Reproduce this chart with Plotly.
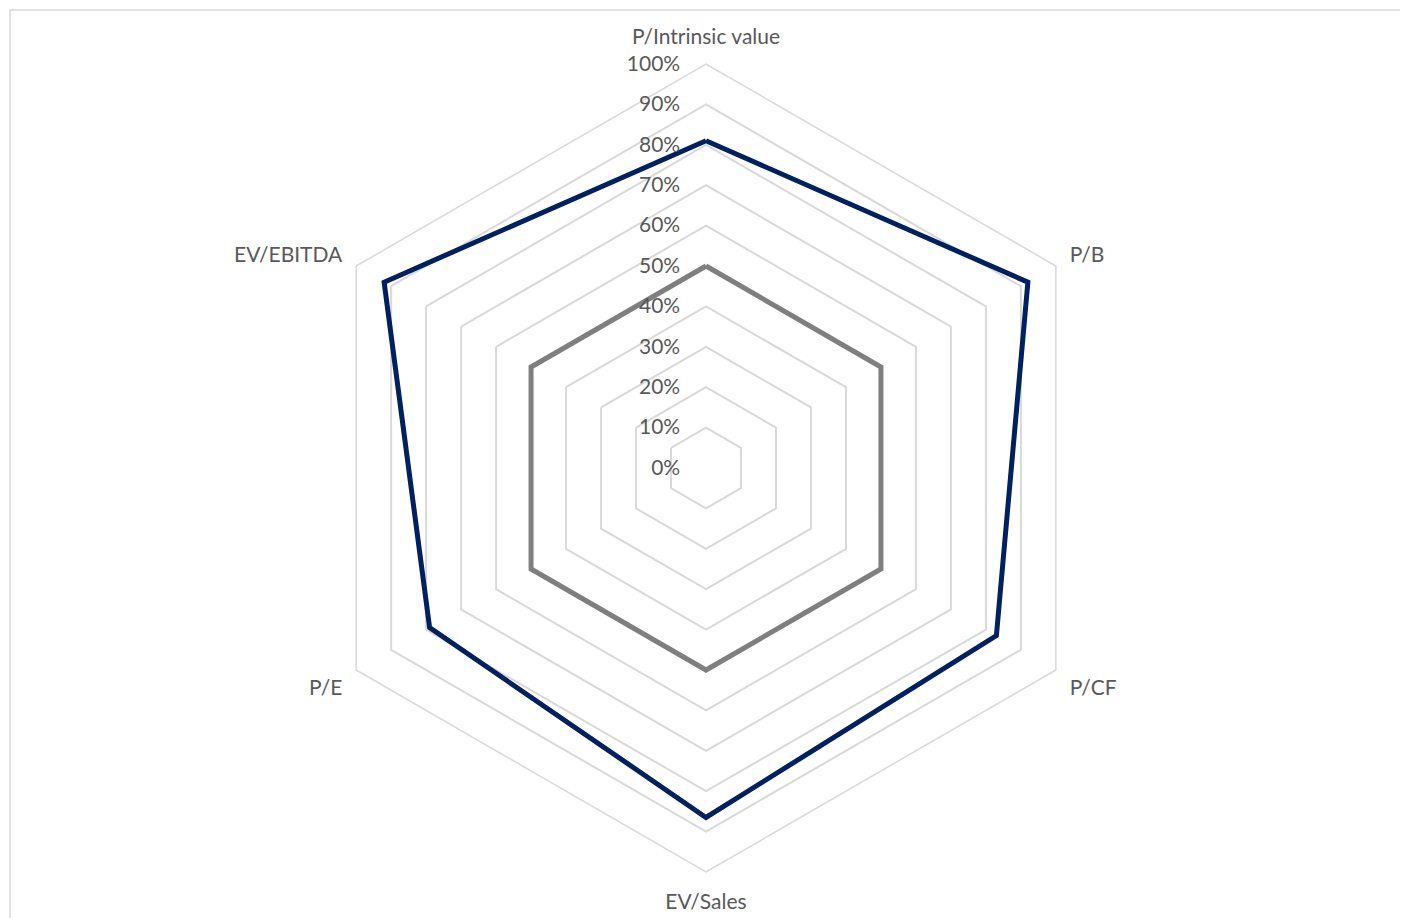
import plotly.graph_objects as go

categories = ["P/Intrinsic value", "P/B", "P/CF", "EV/Sales", "P/E", "EV/EBITDA"]
series_company = [0.81, 0.92, 0.83, 0.865, 0.79, 0.92]
series_benchmark = [0.50, 0.50, 0.50, 0.50, 0.50, 0.50]
radial_ticks = [0, 0.1, 0.2, 0.3, 0.4, 0.5, 0.6, 0.7, 0.8, 0.9, 1.0]
radial_ticktext = ["0%", "10%", "20%", "30%", "40%", "50%", "60%", "70%", "80%", "90%", "100%"]

def closed(v):
    return list(v) + [v[0]]

fig = go.Figure()
fig.add_trace(go.Scatterpolar(
    r=closed(series_benchmark), theta=closed(categories), mode="lines",
    line=dict(color="#7f7f7f", width=5), name="Benchmark", hoverinfo="skip"))
fig.add_trace(go.Scatterpolar(
    r=closed(series_company), theta=closed(categories), mode="lines",
    line=dict(color="#002060", width=5), name="Company", hoverinfo="skip"))

# the page body adds an 8px offset; compensate
OFF = 8
L, R, T, B = 80, 92, 56, 54
W, H = 1408, 918
pw, ph = W - L - R, H - T - B

def px_x(x):
    return (x - OFF - L) / pw

def px_y(y):
    return (H - B - (y - OFF)) / ph

fig.update_layout(
    width=W, height=H,
    margin=dict(l=L, r=R, t=T, b=B),
    paper_bgcolor="white", plot_bgcolor="white",
    showlegend=False,
    font=dict(family="Lato", size=21, color="#595959"),
    polar=dict(
        bgcolor="white",
        gridshape="linear",
        angularaxis=dict(
            direction="clockwise", rotation=90,
            showgrid=False, showline=True, linecolor="#d9d9d9", linewidth=1.5,
            ticks="outside", ticklen=11, tickcolor="rgba(0,0,0,0)",
            tickfont=dict(family="Lato", size=21, color="#595959"),
        ),
        radialaxis=dict(
            range=[0, 1], angle=90, side="counterclockwise",
            tickvals=radial_ticks, ticktext=radial_ticktext, tickangle=90,
            showline=False, showgrid=True, gridcolor="#d9d9d9", gridwidth=1.5,
            ticks="outside", ticklen=18, tickcolor="rgba(0,0,0,0)",
            tickfont=dict(family="Lato", size=21, color="#595959"),
        ),
    ),
    shapes=[dict(type="rect", xref="paper", yref="paper",
                 x0=px_x(10), x1=px_x(1404), y0=px_y(935), y1=px_y(10),
                 line=dict(color="#d9d9d9", width=1.5), fillcolor="rgba(0,0,0,0)",
                 layer="below")],
)

fig.write_html("out.html")
